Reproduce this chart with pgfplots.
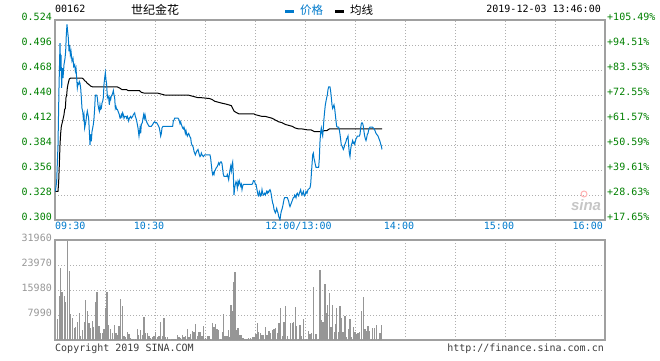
\documentclass[border=0pt]{standalone}
\usepackage{pgfplots}
\usepackage{pgfplotstable}
\pgfplotsset{compat=1.18}
\usepackage{fontspec}
\setmainfont{DejaVu Sans Mono}
\newfontfamily\cjk{Noto Sans CJK SC}
\newfontfamily\sinafont{Liberation Sans}
\definecolor{lineblue}{RGB}{0,122,204}
\definecolor{labgreen}{RGB}{0,128,0}
\definecolor{gridgray}{RGB}{175,175,175}
\definecolor{framegray}{RGB}{160,160,160}
\definecolor{volgray}{RGB}{150,150,150}
\definecolor{footgray}{RGB}{60,60,60}

\pgfplotstableread{
m p
0.2 0.332
1.0 0.343
1.8 0.384
2.4 0.448
3.0 0.498
3.4 0.467
3.6 0.485
4.0 0.448
4.4 0.470
4.8 0.459
5.4 0.474
6.0 0.481
6.4 0.489
6.8 0.508
7.2 0.519
7.6 0.511
8.0 0.504
8.4 0.489
8.8 0.496
9.2 0.485
9.6 0.489
10.2 0.478
10.8 0.481
11.2 0.472
11.8 0.474
12.2 0.467
12.6 0.470
13.0 0.459
13.4 0.448
13.8 0.453
14.2 0.452
14.6 0.455
15.0 0.453
15.4 0.448
15.8 0.437
16.2 0.425
16.6 0.422
17.0 0.414
17.4 0.418
17.8 0.403
18.2 0.407
18.6 0.411
19.0 0.418
19.4 0.422
19.8 0.418
20.2 0.414
20.6 0.399
21.0 0.384
21.4 0.396
21.8 0.388
22.2 0.399
22.6 0.403
23.0 0.407
23.4 0.414
23.8 0.425
24.2 0.440
25.0 0.440
25.4 0.437
25.8 0.429
26.2 0.425
26.6 0.422
27.0 0.429
27.4 0.424
27.8 0.425
28.2 0.431
28.6 0.433
29.0 0.437
29.4 0.452
29.8 0.459
30.2 0.465
30.6 0.457
31.0 0.452
31.4 0.437
31.8 0.439
32.2 0.437
32.6 0.429
33.0 0.437
33.4 0.435
33.8 0.439
34.2 0.440
34.6 0.442
35.0 0.445
35.4 0.440
35.8 0.437
36.2 0.425
36.6 0.427
37.0 0.424
37.4 0.424
37.8 0.422
38.2 0.420
38.6 0.418
39.0 0.414
39.4 0.414
39.8 0.418
40.2 0.416
40.6 0.420
41.0 0.418
41.4 0.414
41.8 0.416
42.6 0.416
43.0 0.414
43.4 0.416
43.8 0.414
44.2 0.411
44.6 0.414
45.4 0.416
45.8 0.414
46.6 0.416
47.0 0.418
47.4 0.419
47.8 0.420
48.2 0.416
48.6 0.414
49.0 0.411
49.4 0.407
49.8 0.403
50.4 0.394
51.0 0.403
51.4 0.397
51.8 0.407
52.4 0.409
52.8 0.414
53.2 0.418
53.6 0.414
54.0 0.418
54.6 0.412
55.2 0.409
55.8 0.407
56.4 0.405
57.8 0.405
58.6 0.407
59.2 0.409
59.8 0.410
60.4 0.409
61.0 0.409
61.6 0.407
62.2 0.405
62.6 0.403
63.0 0.399
63.4 0.394
63.8 0.397
64.2 0.403
64.8 0.405
70.6 0.405
71.0 0.411
71.4 0.412
71.8 0.414
73.8 0.414
74.2 0.413
74.6 0.411
75.0 0.408
75.4 0.410
75.8 0.407
76.2 0.405
76.6 0.403
77.0 0.402
77.4 0.404
77.8 0.401
78.2 0.397
78.6 0.400
79.0 0.396
79.4 0.394
79.8 0.396
80.2 0.397
80.6 0.395
81.0 0.393
81.4 0.392
81.8 0.386
82.2 0.384
82.6 0.383
83.0 0.381
83.4 0.377
83.8 0.375
84.2 0.373
84.6 0.375
85.0 0.377
85.4 0.378
85.8 0.379
86.2 0.376
86.6 0.373
87.0 0.371
87.4 0.372
87.8 0.375
88.2 0.373
89.0 0.371
89.4 0.372
89.8 0.373
93.0 0.373
93.4 0.369
93.8 0.362
94.2 0.355
94.6 0.351
95.0 0.353
95.4 0.351
95.8 0.355
96.2 0.356
96.6 0.358
97.0 0.359
97.4 0.360
97.8 0.362
98.2 0.364
98.6 0.362
99.0 0.364
99.4 0.365
99.8 0.365
100.2 0.363
100.6 0.357
101.0 0.351
101.4 0.349
102.2 0.349
103.0 0.349
103.4 0.351
103.8 0.348
104.2 0.345
104.6 0.351
105.0 0.356
105.4 0.360
105.8 0.355
106.2 0.362
106.6 0.365
107.0 0.351
107.4 0.328
107.8 0.336
108.2 0.340
108.6 0.343
109.0 0.341
109.4 0.336
109.8 0.343
110.2 0.340
110.6 0.344
111.0 0.341
111.4 0.338
111.8 0.340
112.2 0.334
112.6 0.338
113.0 0.340
118.2 0.340
118.6 0.341
119.0 0.344
119.4 0.344
119.8 0.343
120.2 0.340
120.6 0.340
121.0 0.336
121.4 0.332
121.8 0.328
122.2 0.327
122.6 0.332
123.0 0.330
123.4 0.327
123.8 0.328
124.2 0.334
124.6 0.330
125.0 0.328
125.4 0.329
125.8 0.330
126.2 0.328
126.6 0.330
127.0 0.332
127.4 0.330
127.8 0.332
128.2 0.331
128.6 0.333
129.0 0.334
129.4 0.332
129.8 0.328
130.2 0.323
130.6 0.319
131.0 0.317
131.4 0.312
131.8 0.310
132.2 0.308
132.6 0.310
133.0 0.313
133.4 0.310
133.8 0.308
134.2 0.304
134.6 0.302
135.0 0.300
135.4 0.306
135.8 0.310
136.2 0.312
136.6 0.315
137.0 0.319
137.4 0.323
137.8 0.325
139.4 0.325
139.8 0.323
140.2 0.321
140.6 0.317
141.0 0.315
141.4 0.317
141.8 0.319
142.2 0.321
142.6 0.323
143.0 0.325
143.4 0.325
143.8 0.328
144.2 0.327
144.6 0.325
145.0 0.329
145.4 0.330
145.8 0.328
146.2 0.327
146.6 0.330
147.0 0.332
147.4 0.334
147.8 0.330
148.2 0.328
148.6 0.330
149.0 0.332
149.4 0.328
149.8 0.327
150.2 0.329
150.6 0.332
151.2 0.330
151.8 0.334
152.4 0.335
153.0 0.336
153.4 0.340
153.8 0.351
154.2 0.362
154.6 0.373
155.0 0.375
155.4 0.369
155.8 0.366
156.2 0.362
156.6 0.359
158.2 0.359
158.6 0.369
159.0 0.388
159.4 0.399
159.8 0.403
160.2 0.397
160.6 0.394
161.0 0.403
161.4 0.414
161.8 0.422
162.2 0.429
162.6 0.433
163.0 0.437
163.4 0.440
163.8 0.446
164.2 0.449
165.0 0.449
165.4 0.444
165.8 0.437
166.2 0.429
166.6 0.425
167.0 0.427
167.4 0.429
167.8 0.425
168.2 0.418
168.6 0.411
169.0 0.405
169.4 0.404
170.2 0.404
170.6 0.401
171.0 0.396
171.4 0.390
171.8 0.384
172.2 0.383
172.6 0.381
173.0 0.379
173.4 0.381
173.8 0.384
174.2 0.386
174.6 0.388
175.0 0.391
175.4 0.392
175.8 0.394
176.2 0.383
176.6 0.375
177.0 0.371
177.4 0.379
177.8 0.384
178.2 0.386
178.6 0.389
179.0 0.386
179.4 0.387
179.8 0.385
180.2 0.388
180.6 0.391
181.0 0.392
181.4 0.394
182.6 0.394
183.0 0.396
183.4 0.403
183.8 0.408
184.2 0.409
184.6 0.408
185.0 0.405
185.4 0.399
185.8 0.394
186.2 0.391
186.6 0.389
187.0 0.392
187.4 0.396
187.8 0.397
188.2 0.401
188.6 0.403
189.0 0.404
190.6 0.404
191.0 0.403
191.4 0.402
191.8 0.401
192.2 0.399
192.6 0.397
193.0 0.396
193.4 0.395
193.8 0.394
194.2 0.392
194.6 0.390
195.0 0.388
195.4 0.385
195.8 0.383
196.2 0.379
}\price

\pgfplotstableread{
m p
0.2 0.332
1.8 0.332
2.2 0.343
2.6 0.362
3.0 0.384
3.4 0.397
3.8 0.405
4.6 0.411
5.4 0.418
5.8 0.424
6.2 0.425
6.6 0.437
7.0 0.440
7.4 0.448
7.8 0.452
8.2 0.455
8.6 0.458
9.4 0.459
16.2 0.459
17.0 0.458
17.8 0.456
18.6 0.455
19.4 0.453
20.2 0.452
21.4 0.450
22.6 0.449
23.4 0.449
37.4 0.449
38.6 0.448
39.4 0.447
40.2 0.446
43.0 0.446
43.8 0.445
50.6 0.445
51.8 0.443
53.8 0.442
61.8 0.442
63.8 0.441
65.8 0.440
79.8 0.440
81.8 0.439
83.8 0.438
85.8 0.437
87.8 0.437
92.8 0.436
94.2 0.435
95.8 0.433
97.8 0.432
99.8 0.431
102.2 0.430
104.2 0.429
105.8 0.428
106.6 0.425
107.4 0.422
108.2 0.421
110.2 0.419
119.2 0.419
120.2 0.418
122.2 0.417
124.2 0.416
126.2 0.416
128.2 0.415
130.2 0.414
132.2 0.412
134.2 0.410
136.2 0.409
138.2 0.407
140.2 0.406
142.2 0.405
144.2 0.403
146.2 0.402
148.2 0.402
151.4 0.401
153.6 0.401
154.6 0.400
155.6 0.399
159.6 0.399
161.6 0.400
163.0 0.400
164.6 0.402
196.2 0.402
}\avg

\pgfplotstableread{
m v
1.4 6711
2.6 14062
3.2 23117
4.2 15341
5.6 14062
6.2 12251
7.6 31746
8.6 22052
9.4 8310
10.4 7138
11.6 3942
12.4 4261
13.4 5859
14.6 8629
15.2 1278
16.4 3196
17.6 5859
18.2 12784
19.4 9268
20.4 5327
21.2 3942
22.4 6072
23.2 4261
24.2 12145
25.2 15341
26.4 4581
27.4 2344
28.4 2344
29.4 3516
30.2 10333
31.2 15341
32.2 4687
33.2 3622
34.6 2344
35.6 4794
36.6 2344
37.4 1598
38.4 4581
39.2 13103
40.4 10866
41.4 1385
42.4 852
43.4 2663
44.4 1918
45.4 746
46.2 426
47.2 320
48.4 426
49.4 3516
50.2 1491
51.2 3196
52.4 1491
53.4 7244
54.4 2344
55.4 2344
56.4 1278
57.4 746
58.4 852
59.4 1278
60.4 2557
61.4 852
62.4 1385
63.4 5753
64.4 1172
65.4 7031
66.4 852
67.4 1065
68.6 213
70.2 213
71.4 213
72.4 320
73.4 1491
74.4 852
75.4 639
76.4 1491
77.4 852
78.2 1278
79.4 3516
80.4 1065
81.4 1918
82.4 2876
83.4 2450
84.4 5007
85.4 1385
86.4 2557
87.4 2663
88.2 1278
89.2 4474
90.2 746
91.4 1278
92.4 1278
93.4 320
94.4 5327
95.4 4261
96.2 5113
97.2 3622
98.0 3196
99.2 320
100.4 2663
101.0 8310
102.0 1278
103.2 1278
104.0 3196
105.0 1065
105.6 11186
106.4 9268
107.0 18536
108.0 21839
109.0 3196
109.8 3942
111.0 1491
112.0 1705
112.8 746
114.0 426
115.2 426
116.2 639
117.2 639
118.4 852
119.4 852
120.6 1918
121.4 5540
122.2 2663
123.2 2344
124.2 1705
125.2 1705
126.2 4155
127.2 1491
128.4 2876
129.4 2344
130.4 3196
131.4 3622
132.4 3942
133.4 2237
134.4 5327
135.4 10333
136.4 1278
137.4 5753
138.4 10866
139.4 1278
140.2 426
141.4 5540
142.4 5540
143.2 5753
144.2 10547
145.0 4474
146.0 426
147.0 4687
148.0 1278
149.0 6711
150.2 426
151.0 426
152.0 2876
153.0 1918
154.0 2344
155.0 16832
156.2 1918
157.0 1918
158.0 426
159.0 22265
159.8 6392
160.8 5753
162.0 17897
162.6 8522
163.6 11079
164.6 15127
165.6 4261
166.6 11079
167.6 2557
168.2 5113
169.0 10227
170.2 2557
171.0 10866
171.8 6924
172.8 2557
174.0 7777
175.0 1065
176.2 3622
177.0 6605
178.0 1065
179.0 4048
180.0 2557
180.6 1918
181.8 2131
182.6 2557
184.0 9268
185.0 13742
186.0 3622
186.6 2983
187.8 4474
188.6 2983
189.8 213
190.6 3942
191.8 3942
192.8 4687
194.0 213
195.0 2344
195.8 4794
}\vol

\begin{document}
\begin{tikzpicture}[lab/.style={font=\fontsize{10}{12}\selectfont, inner sep=0pt}]
\path[use as bounding box] (0,0) rectangle (660pt,360pt);

\pgfplotsset{
  chartbase/.style={
    scale only axis, anchor=south west, width=550pt,
    xmin=0, xmax=330, xtick={0,30,...,330},
    xticklabels={,,,,,,,,,,,},
    scaled x ticks=false, scaled y ticks=false,
    major tick length=0pt,
    grid=major,
    major grid style={draw=gridgray, dash pattern=on 1pt off 2pt, line width=0.8pt},
    axis line style={draw=framegray, line width=1.2pt},
  }
}

\begin{axis}[chartbase, at={(55pt,140pt)}, height=200pt,
  ymin=0.300, ymax=0.524,
  ytick={0.300,0.328,0.356,0.384,0.412,0.440,0.468,0.496,0.524},
  yticklabels={0.300,0.328,0.356,0.384,0.412,0.440,0.468,0.496,0.524},
  yticklabel style={font=\fontsize{10}{12}\selectfont, text=labgreen, inner sep=0pt, xshift=-3pt, yshift=3pt},
]
\addplot[black, line width=1pt] table[x=m, y=p] {\avg};
\addplot[lineblue, line width=1pt] table[x=m, y=p] {\price};
\end{axis}

\begin{axis}[chartbase, at={(55pt,20pt)}, height=100pt,
  ymin=0, ymax=31960,
  ytick={7990,15980,23970,31960},
  yticklabels={7990,15980,23970,31960},
  yticklabel style={font=\fontsize{10}{12}\selectfont, text=volgray, inner sep=0pt, xshift=-3pt, yshift=2pt},
]
\addplot[ycomb, draw=volgray, line width=1.1pt, mark=none] table[x=m, y=v] {\vol};
\end{axis}

% header
\node[lab, anchor=west] at (55pt,351pt) {00162};
\node[inner sep=0pt, anchor=west, font=\cjk\fontsize{12}{14}\selectfont] at (131pt,350pt) {世纪金花};
\draw[lineblue, line width=3pt] (285pt,349pt) -- (294pt,349pt);
\node[inner sep=0pt, anchor=west, text=lineblue, font=\cjk\fontsize{11.5}{14}\selectfont] at (300pt,350pt) {价格};
\draw[black, line width=3pt] (335pt,349pt) -- (344pt,349pt);
\node[inner sep=0pt, anchor=west, font=\cjk\fontsize{11.5}{14}\selectfont] at (350pt,350pt) {均线};
\node[lab, anchor=east] at (601pt,351pt) {2019-12-03 13:46:00};

% right percentage labels
\foreach \t [count=\i from 0] in {+17.65\%,+28.63\%,+39.61\%,+50.59\%,+61.57\%,+72.55\%,+83.53\%,+94.51\%,+105.49\%}{
  \node[lab, anchor=west, text=labgreen] at (607pt,{143pt+25pt*\i}) {\t};
}

% time labels
\node[lab, text=lineblue, anchor=west] at (55pt,134pt) {09:30};
\node[lab, text=lineblue] at (149pt,134pt) {10:30};
\node[lab, text=lineblue] at (298.5pt,134pt) {12:00/13:00};
\node[lab, text=lineblue] at (399pt,134pt) {14:00};
\node[lab, text=lineblue] at (499pt,134pt) {15:00};
\node[lab, text=lineblue, anchor=east] at (603pt,134pt) {16:00};

% sina watermark
\node[inner sep=0pt, text=gray!45, font=\sinafont\bfseries\itshape\fontsize{15}{16}\selectfont] at (586pt,155pt) {sina};
\draw[red!30, line width=1pt] (584pt,166pt) circle (3pt);

% footer
\node[lab, anchor=west, text=footgray] at (55pt,11pt) {Copyright 2019 SINA.COM};
\node[lab, anchor=east, text=footgray] at (604pt,11pt) {http://finance.sina.com.cn};
\end{tikzpicture}
\end{document}
